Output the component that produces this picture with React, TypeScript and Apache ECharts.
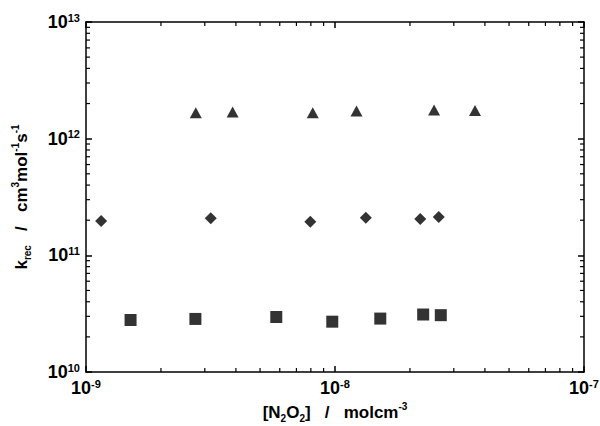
import React, { useEffect, useRef } from "react";
import * as echarts from "echarts";

// N2O2 concentration (mol cm^-3) and k_rec (cm^3 mol^-1 s^-1)
const triX = [2.76e-9, 3.88e-9, 8.14e-9, 1.22e-8, 2.5e-8, 3.65e-8];
const triY = [1.67e12, 1.69e12, 1.67e12, 1.73e12, 1.76e12, 1.74e12];
const diaX = [1.15e-9, 3.17e-9, 7.96e-9, 1.33e-8, 2.2e-8, 2.61e-8];
const diaY = [1.97e11, 2.08e11, 1.94e11, 2.1e11, 2.05e11, 2.13e11];
const sqX = [1.51e-9, 2.75e-9, 5.81e-9, 9.75e-9, 1.52e-8, 2.26e-8, 2.66e-8];
const sqY = [2.79e10, 2.85e10, 2.96e10, 2.7e10, 2.87e10, 3.11e10, 3.07e10];

const xMin = 1e-9;
const xMax = 1e-7;
const yMin = 1e10;
const yMax = 1e13;
const xMinorTicks = [2, 3, 4, 5, 6, 7, 8, 9].flatMap((m) => [m * 1e-9, m * 1e-8]);
const yMinorTicks = [2, 3, 4, 5, 6, 7, 8, 9].flatMap((m) => [m * 1e10, m * 1e11, m * 1e12]);

const FONT = "Liberation Sans";

const zip = (a: number[], b: number[]) => a.map((v, i) => [v, b[i]]);

const powLabel = (v: number) => {
  const e = Math.round(Math.log10(v));
  return `{b|10}{s|${e}}`;
};

const labelRich = {
  b: { fontFamily: FONT, fontWeight: "bold", fontSize: 18, color: "#000", lineHeight: 20 },
  s: { fontFamily: FONT, fontWeight: "bold", fontSize: 11, color: "#000", lineHeight: 10, verticalAlign: "top" },
};

const nameRich = {
  t: { fontFamily: FONT, fontWeight: "bold", fontSize: 17, color: "#000", lineHeight: 22 },
  u: { fontFamily: FONT, fontWeight: "bold", fontSize: 10, color: "#000", lineHeight: 10, verticalAlign: "bottom" },
  p: { fontFamily: FONT, fontWeight: "bold", fontSize: 10, color: "#000", lineHeight: 10, verticalAlign: "top" },
};

export default function App() {
  const ref = useRef<HTMLDivElement>(null);
  useEffect(() => {
    if (!ref.current) return;
    const chart = echarts.init(ref.current, undefined, { renderer: "svg" });
    const lineStyle = { color: "#000", width: 1.5 };
    const option: any = {
      animation: false,
      backgroundColor: "#fff",
      grid: { left: 86, right: 16, top: 22, bottom: 54, containLabel: false, outerBoundsMode: "none" },
      xAxis: [
        {
          type: "log",
          logBase: 10,
          min: xMin,
          max: xMax,
          axisLine: { lineStyle },
          axisTick: { inside: true, length: 6, lineStyle },
          splitLine: { show: false },
          axisLabel: { formatter: powLabel, rich: labelRich, margin: 6 },
          name: "{t|[N}{u|2}{t|O}{u|2}{t|]   /   molcm}{p|-3}",
          nameLocation: "middle",
          nameGap: 28,
          nameTextStyle: { rich: nameRich },
        },
        {
          type: "log",
          logBase: 10,
          min: xMin,
          max: xMax,
          position: "top",
          axisLine: { lineStyle },
          axisTick: { inside: true, length: 6, lineStyle },
          splitLine: { show: false },
          axisLabel: { show: false },
        },
      ],
      yAxis: [
        {
          type: "log",
          logBase: 10,
          min: yMin,
          max: yMax,
          axisLine: { lineStyle },
          axisTick: { inside: true, length: 6, lineStyle },
          splitLine: { show: false },
          axisLabel: { formatter: powLabel, rich: labelRich, margin: 6 },
          name: "{t|k}{u|rec}{t|   /   cm}{p|3}{t|mol}{p|-1}{t|s}{p|-1}",
          nameLocation: "middle",
          nameRotate: 90,
          nameGap: 54,
          nameTextStyle: { rich: nameRich },
        },
        {
          type: "log",
          logBase: 10,
          min: yMin,
          max: yMax,
          position: "right",
          axisLine: { lineStyle },
          axisTick: { inside: true, length: 6, lineStyle },
          splitLine: { show: false },
          axisLabel: { show: false },
        },
      ],
      series: [
        {
          type: "custom",
          xAxisIndex: 0,
          yAxisIndex: 0,
          silent: true,
          clip: false,
          data: xMinorTicks.map((v) => [v, yMin]),
          renderItem: (params: any, api: any) => {
            const b = api.coord([api.value(0), yMin]);
            const t = api.coord([api.value(0), yMax]);
            const st = { stroke: "#000", lineWidth: 1.2 };
            return {
              type: "group",
              children: [
                { type: "line", shape: { x1: b[0], y1: b[1], x2: b[0], y2: b[1] - 4 }, style: st },
                { type: "line", shape: { x1: t[0], y1: t[1], x2: t[0], y2: t[1] + 4 }, style: st },
              ],
            };
          },
        },
        {
          type: "custom",
          xAxisIndex: 0,
          yAxisIndex: 0,
          silent: true,
          clip: false,
          data: yMinorTicks.map((v) => [xMin, v]),
          renderItem: (params: any, api: any) => {
            const l = api.coord([xMin, api.value(1)]);
            const r = api.coord([xMax, api.value(1)]);
            const st = { stroke: "#000", lineWidth: 1.2 };
            return {
              type: "group",
              children: [
                { type: "line", shape: { x1: l[0], y1: l[1], x2: l[0] + 4, y2: l[1] }, style: st },
                { type: "line", shape: { x1: r[0], y1: r[1], x2: r[0] - 4, y2: r[1] }, style: st },
              ],
            };
          },
        },
        {
          name: "triangles",
          type: "scatter",
          symbol: "triangle",
          symbolSize: [12, 11],
          itemStyle: { color: "#000" },
          data: zip(triX, triY),
        },
        {
          name: "diamonds",
          type: "scatter",
          symbol: "diamond",
          symbolSize: [12, 12],
          itemStyle: { color: "#000" },
          data: zip(diaX, diaY),
        },
        {
          name: "squares",
          type: "scatter",
          symbol: "rect",
          symbolSize: [12, 12],
          itemStyle: { color: "#000" },
          data: zip(sqX, sqY),
        },
      ],
    };
    chart.setOption(option);
    return () => chart.dispose();
  }, []);
  return <div ref={ref} style={{ width: 600, height: 426, position: "absolute", left: 0, top: 0 }} />;
}
